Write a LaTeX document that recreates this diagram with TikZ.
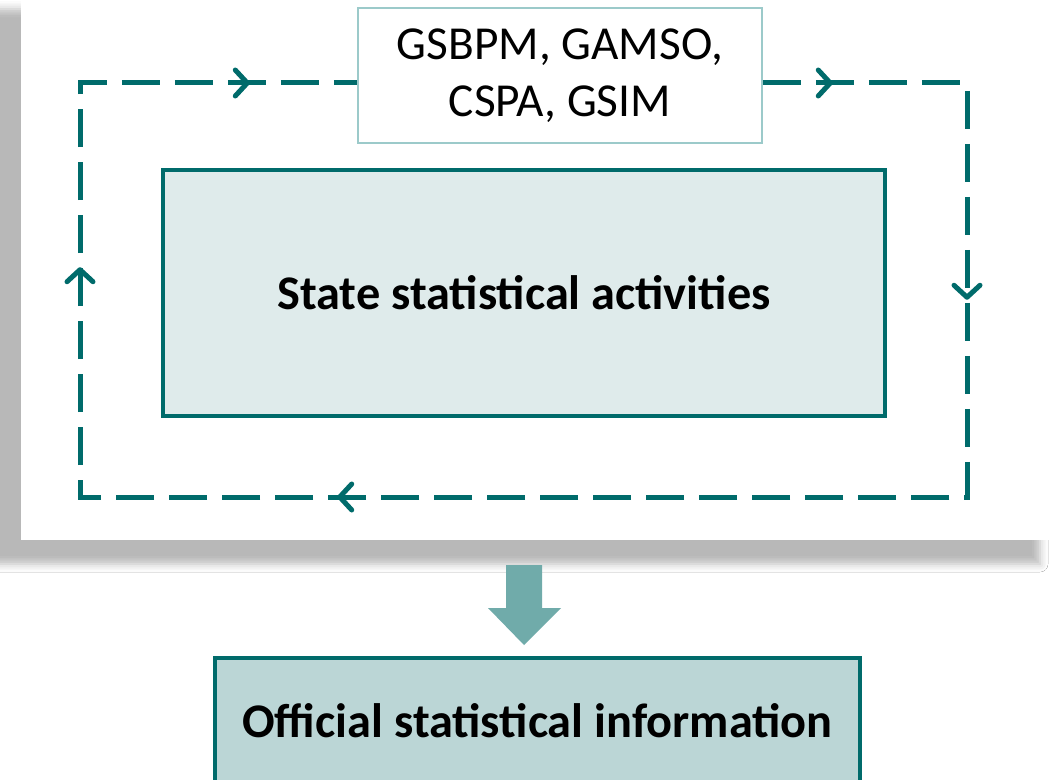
\documentclass[tikz,border=0pt]{standalone}
\usepackage{fontspec}
\setmainfont{Carlito}
\usetikzlibrary{arrows.meta,decorations.markings,shadows.blur}

\definecolor{loopteal}{HTML}{006B6B}
\definecolor{paleteal}{HTML}{9CCACA}
\definecolor{actfill}{HTML}{DFEBEB}
\definecolor{infofill}{HTML}{BBD6D6}
\definecolor{arrowteal}{HTML}{70ABAA}

\begin{document}
\begin{tikzpicture}[x=1bp, y=-1bp,
    looptip/.tip={Straight Barb[length=12bp, width=26bp, round]},
    loopline/.style={draw=loopteal, line width=5bp, dash pattern=on 38bp off 15bp},
    modelbox/.style={draw=paleteal, line width=1.5bp, fill=white, align=center,
      minimum width=404bp, minimum height=135bp, font=\fontsize{47.5}{57}\selectfont},
    actbox/.style={draw=loopteal, line width=3.5bp, fill=actfill,
      minimum width=722bp, minimum height=246bp, font=\fontsize{48.5}{57}\selectfont\bfseries},
    infobox/.style={draw=loopteal, line width=3.5bp, fill=infofill,
      minimum width=645bp, minimum height=126bp, font=\fontsize{48.5}{57}\selectfont\bfseries}]

   \useasboundingbox (0,0) rectangle (1051,780);
   \clip (0,0) rectangle (1051,780);

   \fill[white] (0,0) rectangle (1051,780);
   \fill[white, blur shadow={shadow xshift=-30bp, shadow yshift=-24bp,
     shadow blur radius=8bp, shadow opacity=28}] (21,-15) rectangle (1070,540);

   \coordinate (tl) at (80,83);
   \coordinate (tr) at (967,83);
   \coordinate (br) at (967,497);
   \coordinate (bl) at (80,497);

   \node[modelbox] (models) at (560,75.5) {GSBPM, GAMSO,\\CSPA, GSIM};
   \node[actbox] (activities) at (524,293) {State statistical activities};
   \node[infobox] (info) at (537.5,721) {Official statistical information};

   \draw[loopline, postaction={decorate, decoration={markings,
       mark=at position 70bp with {\arrow{looptip}},
       mark=at position 421bp with {\arrow{looptip}},
       mark=at position 1248bp with {\arrow{looptip}},
       mark=at position 1735bp with {\arrow{looptip}},
       mark=at position 2089bp with {\arrow{looptip}}}}]
     (models.east |- tr) -- (tr) -- (br) -- (bl) -- (tl) -- (models.west |- tl);

   \fill[arrowteal] (506,565) -- (542,565) -- (542,608) -- (561,608)
     -- (524,645) -- (488,608) -- (506,608) -- cycle;

\end{tikzpicture}
\end{document}
